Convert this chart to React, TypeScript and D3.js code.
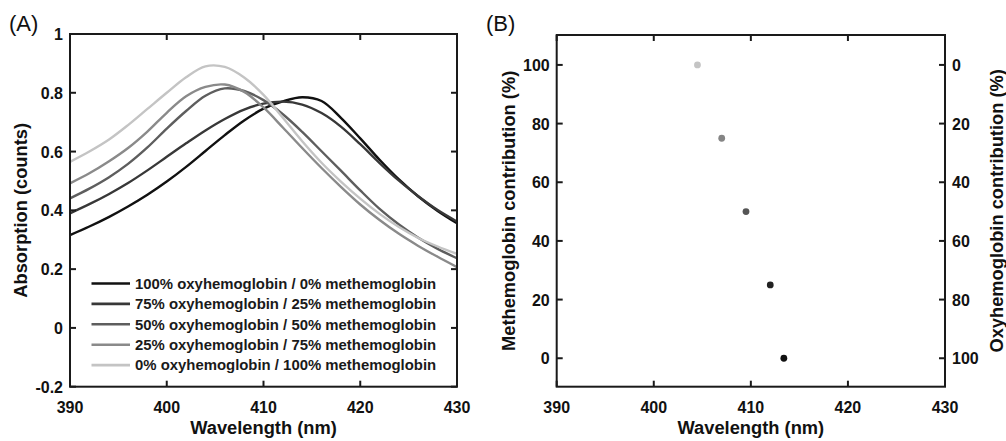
import React from "react";
import * as d3 from "d3";

const wavelengths = [390, 392, 394, 396, 398, 400, 402, 404, 406, 408, 410, 412, 414, 416, 418, 420, 422, 424, 426, 428, 430];
const oxy100 = [0.316, 0.345, 0.377, 0.413, 0.453, 0.498, 0.548, 0.602, 0.656, 0.706, 0.746, 0.771, 0.785, 0.772, 0.715, 0.645, 0.572, 0.505, 0.447, 0.398, 0.356];
const oxy75 = [0.39, 0.421, 0.455, 0.493, 0.536, 0.582, 0.628, 0.672, 0.711, 0.743, 0.763, 0.77, 0.76, 0.731, 0.685, 0.625, 0.561, 0.501, 0.448, 0.401, 0.362];
const oxy50 = [0.441, 0.474, 0.512, 0.558, 0.614, 0.678, 0.738, 0.79, 0.815, 0.806, 0.775, 0.727, 0.667, 0.601, 0.535, 0.468, 0.405, 0.352, 0.307, 0.269, 0.237];
const oxy25 = [0.492, 0.526, 0.566, 0.612, 0.668, 0.732, 0.788, 0.82, 0.828, 0.803, 0.75, 0.682, 0.612, 0.544, 0.48, 0.42, 0.367, 0.32, 0.279, 0.242, 0.207];
const oxy0 = [0.565, 0.6, 0.64, 0.69, 0.745, 0.8, 0.853, 0.89, 0.888, 0.852, 0.793, 0.715, 0.635, 0.562, 0.498, 0.44, 0.388, 0.343, 0.306, 0.277, 0.252];

const legendLabels = [
  "100% oxyhemoglobin / 0% methemoglobin",
  "75% oxyhemoglobin / 25% methemoglobin",
  "50% oxyhemoglobin / 50% methemoglobin",
  "25% oxyhemoglobin / 75% methemoglobin",
  "0% oxyhemoglobin / 100% methemoglobin",
];
const curveColors = ["#111111", "#383838", "#5e5e5e", "#8a8a8a", "#c4c4c4"];

const peakWavelengths = [413.4, 412.0, 409.5, 407.0, 404.5];
const methContribution = [0, 25, 50, 75, 100];
const pointColors = ["#111111", "#222222", "#555555", "#858585", "#c4c4c4"];

const xTicks = [390, 400, 410, 420, 430];
const yTicksA = [-0.2, 0, 0.2, 0.4, 0.6, 0.8, 1];
const yTicksB = [0, 20, 40, 60, 80, 100];

const FONT = "'Liberation Sans', Arial, Helvetica, sans-serif";
const AXIS = "#1a1a1a";

export default function App() {
  // Panel A
  const aL = 70, aR = 457, aT = 34, aB = 386.7;
  const xA = d3.scaleLinear().domain([390, 430]).range([aL, aR]);
  const yA = d3.scaleLinear().domain([-0.2, 1]).range([aB, aT]);
  const series = [oxy100, oxy75, oxy50, oxy25, oxy0];
  const line = d3
    .line<[number, number]>()
    .x((d) => xA(d[0]))
    .y((d) => yA(d[1]))
    .curve(d3.curveCatmullRom.alpha(0.5));

  // Panel B
  const bL = 556.7, bR = 945, bT = 35, bB = 386.7;
  const xB = d3.scaleLinear().domain([390, 430]).range([bL, bR]);
  const yB = d3.scaleLinear().domain([-9.7, 110.2]).range([bB, bT]);
  const yB2 = d3.scaleLinear().domain([109.7, -10.2]).range([bB, bT]);

  const tickLen = 6;
  const tickFont = 16;
  const titleFont = 18.3;

  return (
    <div style={{ position: "absolute", left: 0, top: 0 }}>
      <svg width={1006} height={441} style={{ display: "block", background: "#fff" }} fontFamily={FONT}>
        {/* Panel labels */}
        <text x={9} y={31} fontSize={22} fill="#111">(A)</text>
        <text x={486} y={31} fontSize={22} fill="#111">(B)</text>

        {/* ===== Panel A ===== */}
        <defs>
          <clipPath id="clipA">
            <rect x={aL} y={aT} width={aR - aL} height={aB - aT} />
          </clipPath>
        </defs>
        <g clipPath="url(#clipA)">
          {series.map((s, i) => (
            <path
              key={i}
              d={line(wavelengths.map((w, j) => [w, s[j]] as [number, number])) || ""}
              fill="none"
              stroke={curveColors[i]}
              strokeWidth={2.4}
            />
          ))}
        </g>
        {xTicks.map((t) => (
          <g key={"xa" + t}>
            <line x1={xA(t)} x2={xA(t)} y1={aB} y2={aB - tickLen} stroke={AXIS} strokeWidth={2} />
            <line x1={xA(t)} x2={xA(t)} y1={aT} y2={aT + tickLen} stroke={AXIS} strokeWidth={2} />
            <text x={xA(t)} y={412.5} textAnchor="middle" fontSize={tickFont} fontWeight="bold" fill="#111">
              {t}
            </text>
          </g>
        ))}
        {yTicksA.map((t) => (
          <g key={"ya" + t}>
            <line x1={aL} x2={aL + tickLen} y1={yA(t)} y2={yA(t)} stroke={AXIS} strokeWidth={2} />
            <line x1={aR} x2={aR - tickLen} y1={yA(t)} y2={yA(t)} stroke={AXIS} strokeWidth={2} />
            <text x={aL - 7} y={yA(t) + 6} textAnchor="end" fontSize={tickFont} fontWeight="bold" fill="#111">
              {String(t)}
            </text>
          </g>
        ))}
        <rect x={aL} y={aT} width={aR - aL} height={aB - aT} fill="none" stroke={AXIS} strokeWidth={2} />
        {legendLabels.map((lab, i) => (
          <g key={"lg" + i}>
            <line x1={91.5} x2={130} y1={283.5 + i * 20.4} y2={283.5 + i * 20.4} stroke={curveColors[i]} strokeWidth={2.6} />
            <text x={135} y={283.5 + i * 20.4 + 5.3} fontSize={14.9} fontWeight="bold" fill="#1a1a1a">
              {lab}
            </text>
          </g>
        ))}
        <text x={(aL + aR) / 2} y={434} textAnchor="middle" fontSize={titleFont} fontWeight="bold" fill="#111">
          Wavelength (nm)
        </text>
        <text
          transform={`translate(27,${(aT + aB) / 2}) rotate(-90)`}
          textAnchor="middle"
          fontSize={titleFont}
          fontWeight="bold"
          fill="#111"
        >
          Absorption (counts)
        </text>

        {/* ===== Panel B ===== */}
        {peakWavelengths.map((w, i) => (
          <circle key={"pt" + i} cx={xB(w)} cy={yB(methContribution[i])} r={3.4} fill={pointColors[i]} />
        ))}
        {xTicks.map((t) => (
          <g key={"xb" + t}>
            <line x1={xB(t)} x2={xB(t)} y1={bB} y2={bB - tickLen} stroke={AXIS} strokeWidth={2} />
            <line x1={xB(t)} x2={xB(t)} y1={bT} y2={bT + tickLen} stroke={AXIS} strokeWidth={2} />
            <text x={xB(t)} y={412.5} textAnchor="middle" fontSize={tickFont} fontWeight="bold" fill="#111">
              {t}
            </text>
          </g>
        ))}
        {yTicksB.map((t) => (
          <g key={"yb" + t}>
            <line x1={bL} x2={bL + tickLen} y1={yB(t)} y2={yB(t)} stroke={AXIS} strokeWidth={2} />
            <text x={bL - 7} y={yB(t) + 6} textAnchor="end" fontSize={tickFont} fontWeight="bold" fill="#111">
              {t}
            </text>
          </g>
        ))}
        {yTicksB.map((t) => (
          <g key={"yb2" + t}>
            <line x1={bR} x2={bR - tickLen} y1={yB2(t)} y2={yB2(t)} stroke={AXIS} strokeWidth={2} />
            <text x={bR + 7} y={yB2(t) + 6} textAnchor="start" fontSize={tickFont} fontWeight="bold" fill="#111">
              {t}
            </text>
          </g>
        ))}
        <rect x={bL} y={bT} width={bR - bL} height={bB - bT} fill="none" stroke={AXIS} strokeWidth={2} />
        <text x={(bL + bR) / 2} y={434} textAnchor="middle" fontSize={titleFont} fontWeight="bold" fill="#111">
          Wavelength (nm)
        </text>
        <text
          transform={`translate(515,${(bT + bB) / 2}) rotate(-90)`}
          textAnchor="middle"
          fontSize={titleFont}
          fontWeight="bold"
          fill="#111"
        >
          Methemoglobin contribution (%)
        </text>
        <text
          transform={`translate(1003,${(bT + bB) / 2}) rotate(-90)`}
          textAnchor="middle"
          fontSize={titleFont}
          fontWeight="bold"
          fill="#111"
        >
          Oxyhemoglobin contribution (%)
        </text>
      </svg>
    </div>
  );
}
